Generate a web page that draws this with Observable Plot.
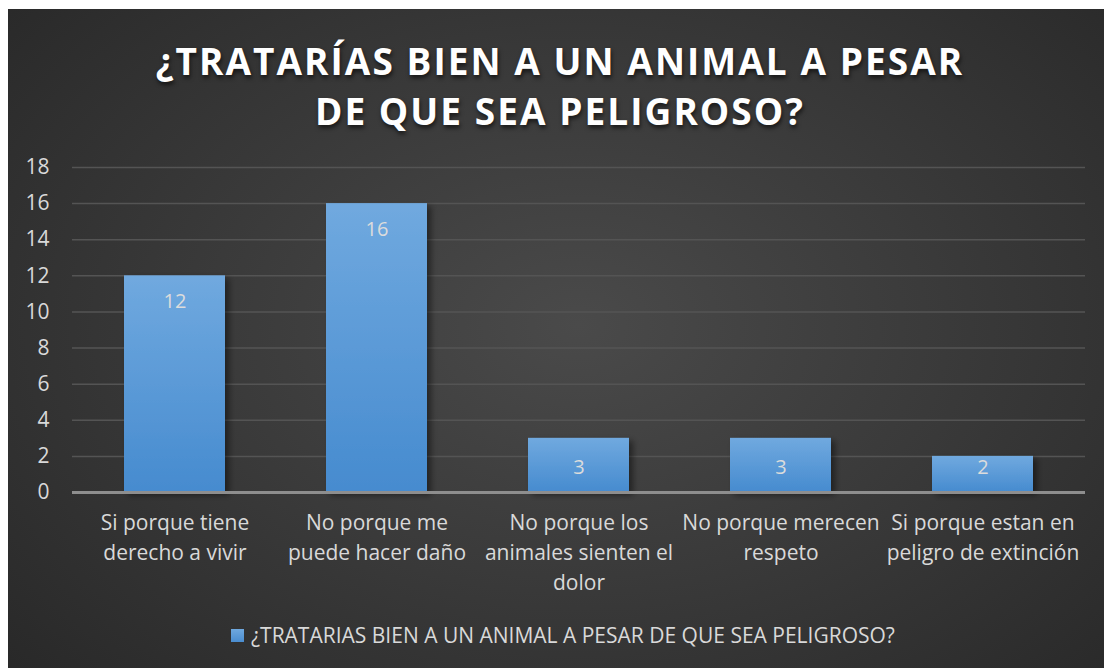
<!DOCTYPE html>
<html><head><meta charset="utf-8">
<script src="https://cdn.jsdelivr.net/npm/d3@7"></script>
<script src="https://cdn.jsdelivr.net/npm/@observablehq/plot@0.6"></script>
<style>
html,body{margin:0;padding:0;background:#fff;}
#wrap{position:relative;width:1104px;height:668px;background:#fff;overflow:hidden;font-family:"Open Sans",sans-serif;}
#panel{position:absolute;left:8px;top:9px;right:0;bottom:0;
 background:radial-gradient(ellipse 75% 85% at 52% 48%, #4a4a4a 0%, #3a3a3a 45%, #262626 100%);}
#title{position:absolute;left:0;width:1120px;top:36px;text-align:center;color:#fff;font-weight:700;font-size:37px;letter-spacing:2.05px;line-height:50px;text-shadow:1px 3px 4px rgba(0,0,0,0.6);}
#chart{position:absolute;left:0;top:150px;}
#legend{position:absolute;left:231px;top:621px;color:#d9d9d9;font-size:21px;display:flex;align-items:center;white-space:nowrap;}
#legend .sw{width:13px;height:13px;background:linear-gradient(#6fa8de,#4a8dd0);margin-right:7px;}
</style></head>
<body>
<div id="wrap"><div id="panel"></div>
<div id="title">¿TRATARÍAS BIEN A UN ANIMAL A PESAR<br>DE QUE SEA PELIGROSO?</div>
<div id="chart"></div>
<div id="legend"><div class="sw"></div><span>¿TRATARIAS BIEN A UN ANIMAL A PESAR DE QUE SEA PELIGROSO?</span></div>
</div>
<script>
const categories = ["Si porque tiene derecho a vivir","No porque me puede hacer daño","No porque los animales sienten el dolor","No porque merecen respeto","Si porque estan en peligro de extinción"];
const values = [12, 16, 3, 3, 2];
const tickLabels = ["Si porque tiene\nderecho a vivir","No porque me\npuede hacer daño","No porque los\nanimales sienten el\ndolor","No porque merecen\nrespeto","Si porque estan en\npeligro de extinción"];
const yTicks = [0,2,4,6,8,10,12,14,16,18];

const data = categories.map((c,i)=>({cat:c, value:values[i]}));
const labelOf = new Map(categories.map((c,i)=>[c, tickLabels[i]]));
const tall = data.filter(d => d.value >= 4);
const short = data.filter(d => d.value < 4);

const plot = Plot.plot({
  width: 1104, height: 460,
  marginLeft: 72, marginRight: 19, marginTop: 17, marginBottom: 118,
  style: {background:"transparent", color:"#d9d9d9", fontFamily:"'Open Sans', sans-serif", fontSize:"20px", overflow:"visible"},
  x: {domain: categories, paddingInner: 0.5, paddingOuter: 0.25, label: null},
  y: {domain: [0,18], ticks: yTicks, label: null},
  marks: [
    Plot.gridY(yTicks, {stroke:"#545454", strokeOpacity:1, strokeWidth:1.5}),
    Plot.barY(data, {x:"cat", y:"value", fill:"url(#barGrad)"}),
    Plot.ruleY([0], {stroke:"#8e8e8e", strokeWidth:3}),
    Plot.text(tall, {x:"cat", y:"value", text:d=>String(d.value), dy:26, fill:"#dcdcdc", fontSize:20}),
    Plot.text(short, {x:"cat", y:0, text:d=>String(d.value), dy:-25, fill:"#dcdcdc", fontSize:20}),
    Plot.axisY(yTicks, {tickSize:0, tickPadding:23, fontSize:21, fill:"#d9d9d9"}),
    Plot.axisX({tickSize:0, tickPadding:16, fontSize:21, fill:"#d9d9d9", lineHeight:1.43, tickFormat:c=>labelOf.get(c)})
  ]
});
const ns = "http://www.w3.org/2000/svg";
const defs = document.createElementNS(ns, "defs");
defs.innerHTML = `<linearGradient id="barGrad" x1="0" y1="0" x2="0" y2="1">
  <stop offset="0" stop-color="#70a9df"/><stop offset="1" stop-color="#468bcf"/></linearGradient>
  <filter id="sh" x="-20%" y="-20%" width="150%" height="150%"><feDropShadow dx="4" dy="3" stdDeviation="3" flood-color="#000" flood-opacity="0.45"/></filter>`;
plot.insertBefore(defs, plot.firstChild);
plot.querySelectorAll('rect').forEach(r=>{ if (r.getAttribute('fill')==='url(#barGrad)' || (r.parentNode.getAttribute && r.parentNode.getAttribute('fill')==='url(#barGrad)')) r.setAttribute('filter','url(#sh)'); });
document.getElementById("chart").appendChild(plot);
</script>
</body></html>
